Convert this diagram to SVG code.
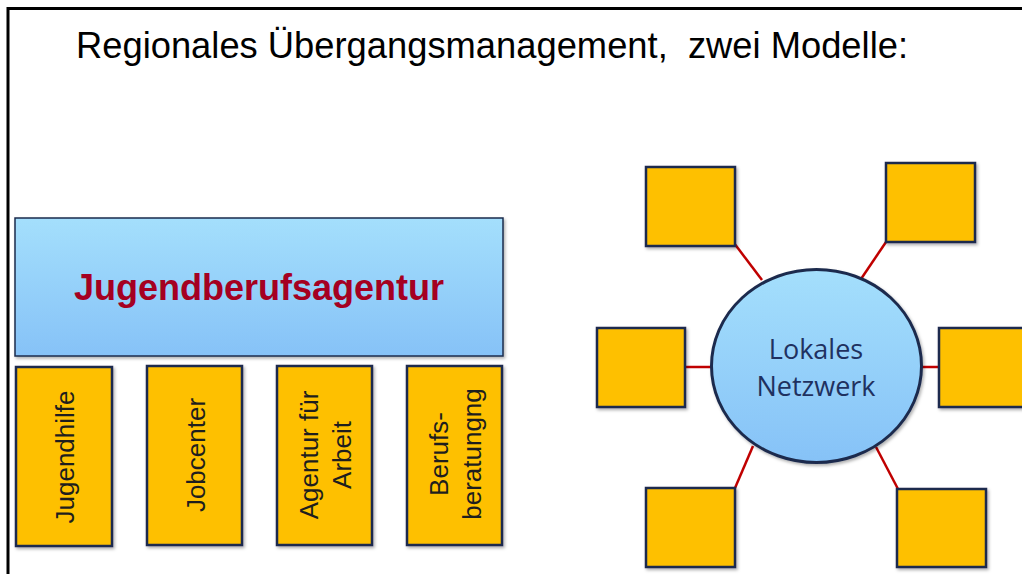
<svg xmlns="http://www.w3.org/2000/svg" width="1022" height="574" viewBox="0 0 1022 574">
<defs>
<linearGradient id="blue" x1="0" y1="0" x2="0" y2="1">
<stop offset="0" stop-color="#a4dffc"/>
<stop offset="1" stop-color="#86c2f7"/>
</linearGradient>
<filter id="sh" x="-10%" y="-10%" width="125%" height="125%">
<feDropShadow dx="1.5" dy="2" stdDeviation="1.5" flood-color="#000" flood-opacity="0.3"/>
</filter>
</defs>
<style>
.box{fill:#fec000;stroke:#1c2b4d;stroke-width:2.5;filter:url(#sh)}
.blue{fill:url(#blue);stroke:#1c2b4d;filter:url(#sh)}
.vt{font-family:"Liberation Sans",Arial,sans-serif;font-size:26px;fill:#1e1e1e;text-anchor:middle}
.net{font-family:"Open Sans","Noto Sans",sans-serif;font-size:27px;fill:#1f3160;text-anchor:middle}
.conn line{stroke:#c00000;stroke-width:2.5}
</style>
<rect x="0" y="0" width="1022" height="574" fill="#fff"/>
<rect x="8" y="8.5" width="1100" height="700" fill="none" stroke="#000" stroke-width="3"/>
<text x="76" y="58" font-family="Liberation Sans,Arial,sans-serif" font-size="36" fill="#000" xml:space="preserve" textLength="832" lengthAdjust="spacingAndGlyphs">Regionales Übergangsmanagement,  zwei Modelle:</text>

<g id="jugendberufsagentur">
<rect class="blue" x="15" y="218" width="488" height="138" stroke-width="1.5"/>
<text x="259" y="300" font-family="Liberation Sans,Arial,sans-serif" font-size="36" font-weight="bold" fill="#a50021" text-anchor="middle">Jugendberufsagentur</text>
</g>
<g id="jugendhilfe">
<rect class="box" x="16" y="367" width="96" height="179"/>
<text class="vt" transform="translate(64,457) rotate(-90)" y="10">Jugendhilfe</text>
</g>
<g id="jobcenter">
<rect class="box" x="147" y="366" width="95" height="179"/>
<text class="vt" transform="translate(194.5,455) rotate(-90)" y="10">Jobcenter</text>
</g>
<g id="agentur">
<rect class="box" x="277" y="366" width="95" height="179"/>
<text class="vt" transform="translate(324.5,455) rotate(-90)"><tspan x="0" y="-6.5">Agentur für</tspan><tspan x="0" y="26.5">Arbeit</tspan></text>
</g>
<g id="berufsberatung">
<rect class="box" x="407" y="366" width="95" height="179"/>
<text class="vt" transform="translate(454.5,454) rotate(-90)"><tspan x="0" y="-6.5">Berufs-</tspan><tspan x="0" y="26.5">beratungng</tspan></text>
</g>

<g id="connectors" class="conn">
<line x1="734" y1="243" x2="762" y2="280"/>
<line x1="886" y1="242" x2="861" y2="279"/>
<line x1="685" y1="367" x2="712" y2="367"/>
<line x1="921" y1="367" x2="939" y2="367"/>
<line x1="753" y1="446" x2="735" y2="488"/>
<line x1="876" y1="447" x2="898" y2="489"/>
</g>

<g id="lokales-netzwerk">
<ellipse class="blue" cx="816.5" cy="366" rx="105" ry="96.5" stroke-width="3"/>
<text class="net" x="816" y="359">Lokales</text>
<text class="net" x="816" y="396">Netzwerk</text>
</g>
<g id="n-tl"><rect class="box" x="646" y="167" width="89" height="79"/></g>
<g id="n-tr"><rect class="box" x="886" y="163" width="89" height="79"/></g>
<g id="n-ml"><rect class="box" x="597" y="328" width="88" height="79"/></g>
<g id="n-mr"><rect class="box" x="939" y="328" width="92" height="79"/></g>
<g id="n-bl"><rect class="box" x="646" y="488" width="89" height="79"/></g>
<g id="n-br"><rect class="box" x="897" y="489" width="89" height="78"/></g>
</svg>
